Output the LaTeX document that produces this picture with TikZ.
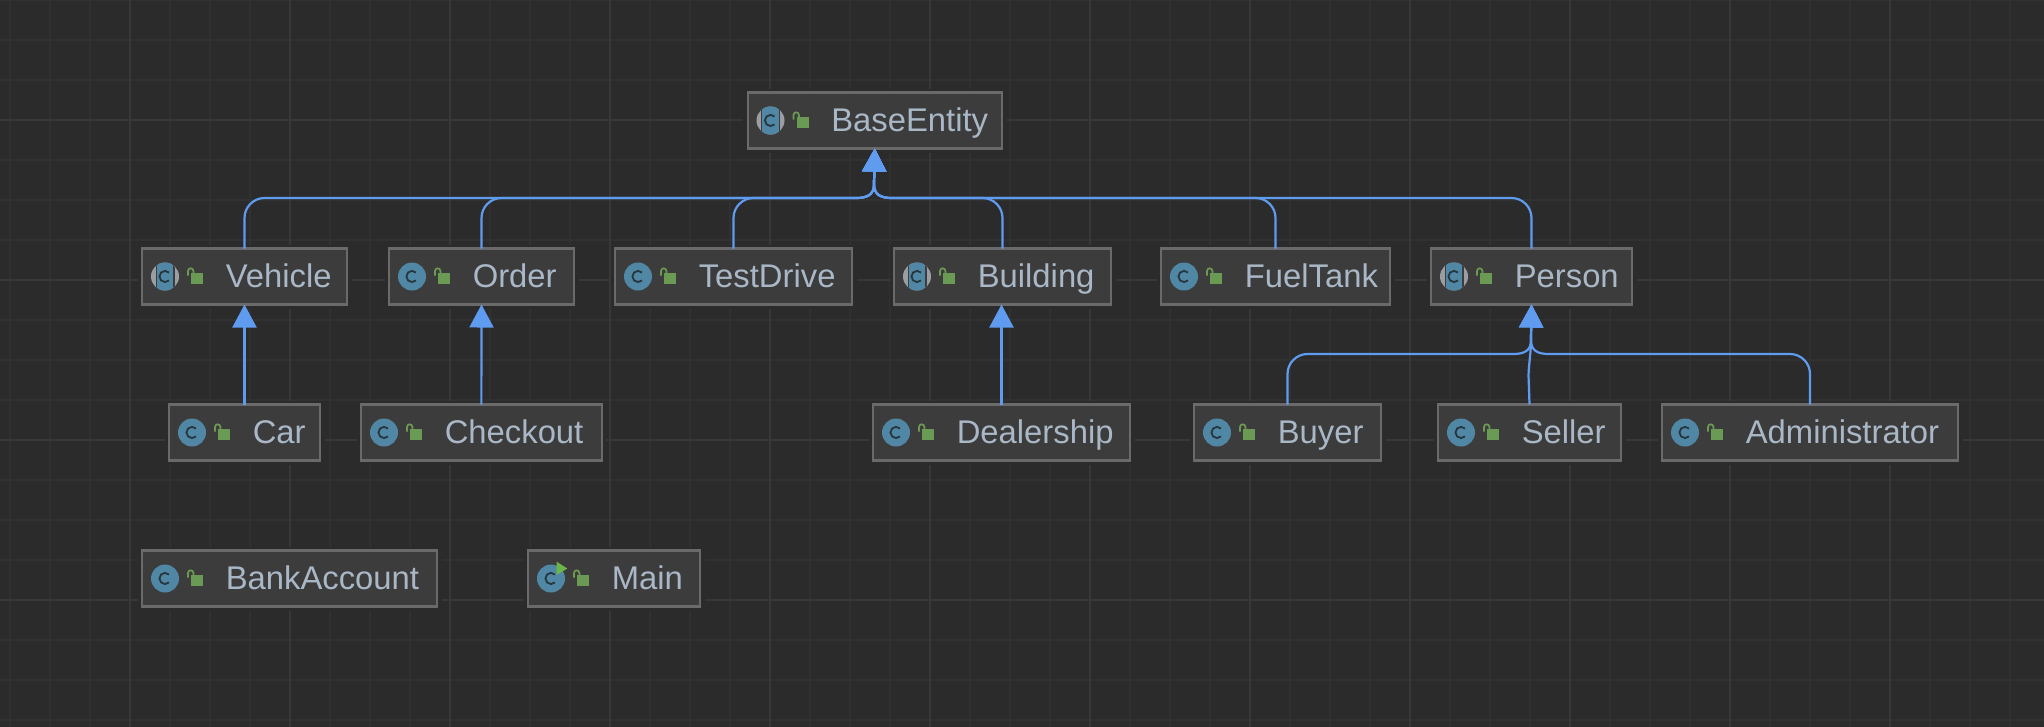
\documentclass[tikz,border=0pt]{standalone}
\usepackage{fontspec}
\setmainfont{Liberation Sans}
\usetikzlibrary{arrows.meta,calc}
\definecolor{bgc}{HTML}{2B2B2B}
\definecolor{gridminor}{HTML}{313131}
\definecolor{gridmajor}{HTML}{383838}
\definecolor{boxfill}{HTML}{3C3C3C}
\definecolor{boxline}{HTML}{6A6A6A}
\definecolor{txtc}{HTML}{A9B7C6}
\definecolor{edgec}{HTML}{5F9BEF}
\definecolor{iconblue}{HTML}{4F87A5}
\definecolor{icongray}{HTML}{9A9EA3}
\definecolor{icondark}{HTML}{28363F}
\definecolor{lockgreen}{HTML}{6B9A54}
\definecolor{rungreen}{HTML}{6DB54A}
\tikzset{
  classbox/.style={draw=boxline,fill=boxfill,line width=2.2pt,inner xsep=0pt,inner ysep=0pt,outer sep=0pt,
    text=txtc,align=left,font=\fontsize{32.8}{34}\selectfont},
  conn/.style={draw=edgec,line width=2.2pt,line join=round},
  inh/.style={conn,-{Triangle[width=24pt,length=23pt]}}
}
\newcommand{\lockicon}{%
  \fill[lockgreen] (50,-3.5) rectangle (62,7.5);
  \draw[lockgreen,line width=1.7pt] (47,-1) -- (47,-5.5) arc[start angle=180,end angle=0,radius=2.7pt] -- (52.4,-3.5);
}
\newcommand{\cglyph}{%
  \draw[icondark,line width=1.8pt] (28,-4) arc[start angle=45,end angle=315,radius=5.6pt];
}
\newcommand{\iconplain}{\fill[iconblue] (24,0) circle (14pt);\cglyph\lockicon}
\newcommand{\iconabstract}{%
  \fill[icongray] (24,0) circle (14pt);
  \begin{scope}\clip (24,0) circle (14pt);
    \fill[boxfill] (14.5,-15) rectangle (15.7,15);
    \fill[boxfill] (32.3,-15) rectangle (33.5,15);
    \fill[iconblue] (15.7,-15) rectangle (32.3,15);
  \end{scope}
  \cglyph\lockicon}
\newcommand{\iconrun}{%
  \fill[iconblue] (24,0) circle (14pt);\cglyph
  \fill[rungreen] (29.7,-16.8) -- (40.3,-10) -- (29.7,-3.5) -- cycle;
  \lockicon}
% name, left, right, top, text, icon
\newcommand{\cls}[6]{%
  \pgfmathsetmacro{\cw}{#3-#2}
  \pgfmathsetmacro{\cx}{(#2+#3)/2}
  \pgfmathsetmacro{\cy}{#4+28.5}
  \fill[bgc] (#2-3.5,#4-3.5) rectangle (#3+3.5,#4+60.5);
  \node[classbox,text width=\cw pt-2.2pt,minimum height=54.8pt] (#1) at (\cx,\cy)
    {\hspace*{83.7pt}\rule[-17pt]{0pt}{56pt}#5};
  \begin{scope}[shift={($(#1.west)+(-1.1pt,0)$)}]#6\end{scope}
}
\begin{document}
\begin{tikzpicture}[x=1pt,y=-1pt]
\useasboundingbox (0,0) rectangle (2044,726);
\fill[bgc] (-5,-5) rectangle (2049,731);
\foreach \gx in {10,50,...,2044} \draw[gridminor,line width=2pt] (\gx,-5) -- (\gx,731);
\foreach \gy in {0,40,...,726} \draw[gridminor,line width=2pt] (-5,\gy) -- (2049,\gy);
\foreach \gx in {130,290,...,2044} \draw[gridmajor,line width=2pt] (\gx,-5) -- (\gx,731);
\foreach \gy in {120,280,...,726} \draw[gridmajor,line width=2pt] (-5,\gy) -- (2049,\gy);

\cls{base}{746.5}{1003}{92}{BaseEntity}{\iconabstract}
\cls{vehicle}{141}{348}{248}{Vehicle}{\iconabstract}
\cls{order}{388}{575}{248}{Order}{\iconplain}
\cls{testdrive}{614}{853}{248}{TestDrive}{\iconplain}
\cls{building}{893}{1112}{248}{Building}{\iconabstract}
\cls{fueltank}{1160}{1391}{248}{FuelTank}{\iconplain}
\cls{person}{1430}{1633}{248}{Person}{\iconabstract}
\cls{car}{168}{321}{404}{Car}{\iconplain}
\cls{checkout}{360}{602.7}{404}{Checkout}{\iconplain}
\cls{dealership}{872}{1131}{404}{Dealership}{\iconplain}
\cls{buyer}{1193}{1382}{404}{Buyer}{\iconplain}
\cls{seller}{1437}{1622}{404}{Seller}{\iconplain}
\cls{admin}{1661}{1959}{404}{Administrator}{\iconplain}
\cls{bank}{141}{438}{550}{BankAccount}{\iconplain}
\cls{main}{527}{701}{550}{Main}{\iconrun}

\coordinate (bl) at (856,198);
\coordinate (br) at (892,198);
\coordinate (bj) at (874,184);
\coordinate (pl) at (1513,354);
\coordinate (pr) at (1549,354);
\coordinate (pj) at (1531,340);

\foreach \n in {vehicle,order,testdrive}
  \draw[inh] (\n.north) -- ++(0,-30.5) .. controls +(0,-11) and +(-11,0) .. ++(20,-20) -- (bl) .. controls (867,198) and (874,195) .. (bj) -- (base.south);
\foreach \n in {building,fueltank,person}
  \draw[inh] (\n.north) -- ++(0,-30.5) .. controls +(0,-11) and +(11,0) .. ++(-20,-20) -- (br) .. controls (881,198) and (874,195) .. (bj) -- (base.south);
\draw[inh] (car.north) -- (vehicle.south);
\draw[inh] (checkout.north) -- (order.south);
\draw[inh] (dealership.north) -- (dealership.north |- building.south);
\draw[inh] (buyer.north) -- ++(0,-30.5) .. controls +(0,-11) and +(-11,0) .. ++(20,-20) -- (pl) .. controls (1524,354) and (1531,351) .. (pj) -- (person.south);
\draw[inh] (admin.north) -- ++(0,-30.5) .. controls +(0,-11) and +(11,0) .. ++(-20,-20) -- (pr) .. controls (1538,354) and (1531,351) .. (pj) -- (person.south);
\draw[inh] (seller.north) -- (1528.5,375) .. controls (1529,362) and (1531,352) .. (pj) -- (person.south);
\end{tikzpicture}
\end{document}
